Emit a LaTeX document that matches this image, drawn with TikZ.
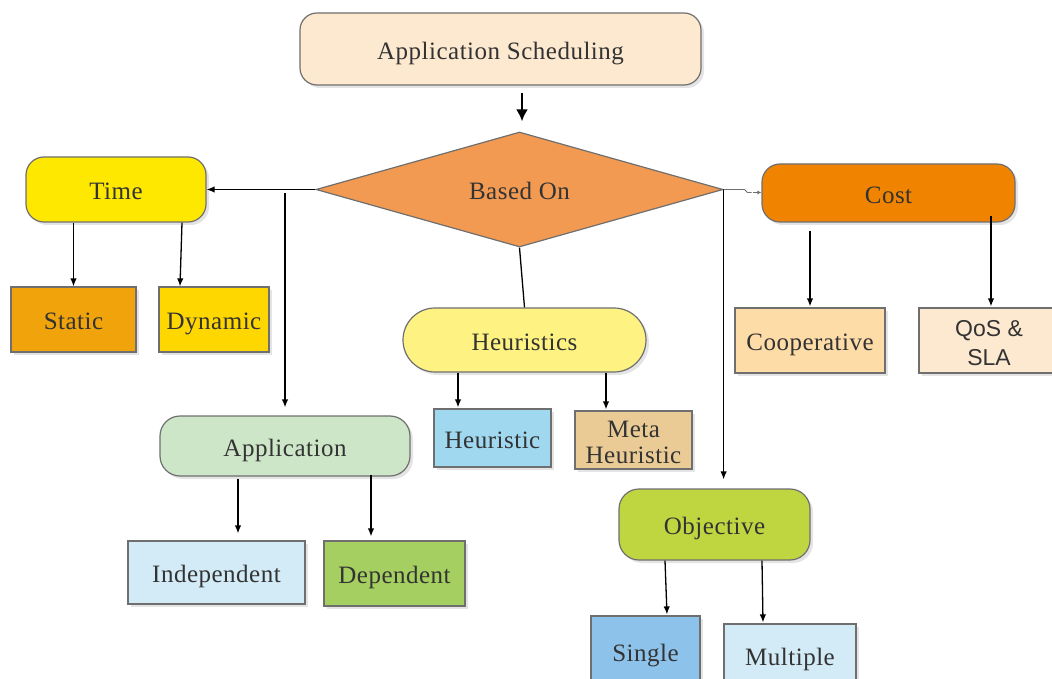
\documentclass[tikz,border=0pt]{standalone}
\usepackage{fontspec}
\setmainfont[LetterSpace=2]{Liberation Serif}
\newfontfamily\sansf{Liberation Sans}
\usetikzlibrary{shapes.geometric,arrows.meta,shadows}
\definecolor{edgegray}{HTML}{6F6F6F}
\definecolor{txt}{HTML}{333333}
\definecolor{shadowgray}{HTML}{E4E4E4}
\definecolor{cApp}{HTML}{FDE9D0}
\definecolor{cBased}{HTML}{F29A52}
\definecolor{cTime}{HTML}{FFE800}
\definecolor{cStatic}{HTML}{F0A30A}
\definecolor{cDynamic}{HTML}{FFD700}
\definecolor{cHeurs}{HTML}{FDF282}
\definecolor{cHeur}{HTML}{A0D8EF}
\definecolor{cMeta}{HTML}{EACB95}
\definecolor{cAppl}{HTML}{CEE6C8}
\definecolor{cIndep}{HTML}{D2EBF6}
\definecolor{cDep}{HTML}{A5CF60}
\definecolor{cObj}{HTML}{C0D641}
\definecolor{cSingle}{HTML}{8DC3EB}
\definecolor{cMult}{HTML}{D2EBF6}
\definecolor{cCost}{HTML}{F08300}
\definecolor{cCoop}{HTML}{FDDCA8}
\definecolor{cQos}{HTML}{FDE9D0}
\begin{document}
\begin{tikzpicture}[x=1pt,y=-1pt,
  base/.style={draw=edgegray, line width=1.2pt, text=txt, inner sep=0pt, align=center,
    font=\fontsize{25}{26}\selectfont, text height=20.5pt, text depth=0pt},
  box/.style={base, drop shadow={shadow xshift=3pt,shadow yshift=-3pt,fill=shadowgray,opacity=1}},
  wh/.style 2 args={minimum width=#1pt, minimum height=#2pt},
  lbl/.style={text=txt, inner sep=0pt, align=center},
  conn/.style={draw=black, line width=1.3pt, -{Latex[length=8pt,width=6.5pt]}},
  plain/.style={draw=black, line width=1.3pt},
]
\useasboundingbox (0,0) rectangle (1052,679);

% nodes
\node[box, rounded corners=17pt, wh={401}{72}, fill=cApp] (sched) at (500.5,49) {Application Scheduling};
\node[base, diamond, aspect=3.5, wh={407}{115}, fill=cBased] (based) at (519.5,189.5) {Based On};
\node[box, rounded corners=18pt, wh={180}{65}, fill=cTime] (time) at (116,189.5) {Time};
\node[box, wh={125}{65}, fill=cStatic] (static) at (73.5,319.5) {Static};
\node[box, wh={110}{65}, fill=cDynamic] (dynamic) at (214,319.5) {Dynamic};
\node[box, rounded corners=32pt, wh={243}{64}, fill=cHeurs] (heurs) at (524.5,340) {Heuristics};
\node[box, wh={117}{58}, fill=cHeur] (heur) at (492.5,438) {Heuristic};
\node[box, wh={117}{58}, fill=cMeta] (meta) at (633.5,440) {};
\node[lbl, font=\fontsize{25}{26}\selectfont] (metatxt) at ([yshift=-2pt]meta.center) {Meta\\Heuristic};
\node[box, rounded corners=20pt, wh={250}{60}, fill=cAppl] (appl) at (285,446) {Application};
\node[box, wh={177}{63}, fill=cIndep] (indep) at (216.5,572.5) {Independent};
\node[box, wh={141}{65}, fill=cDep] (dep) at (394.5,573.5) {Dependent};
\node[box, rounded corners=20pt, wh={191}{71}, fill=cObj] (obj) at (714.5,524.5) {Objective};
\node[box, wh={109}{70}, fill=cSingle] (single) at (645.5,651) {Single};
\node[box, wh={132}{62}, fill=cMult] (mult) at (790,655) {Multiple};
\node[box, rounded corners=18pt, wh={253}{58}, fill=cCost] (cost) at (888.5,193) {Cost};
\node[box, wh={150}{65}, fill=cCoop] (coop) at (810,340.5) {Cooperative};
\node[box, wh={140}{65}, fill=cQos] (qos) at (989,340.5) {};
\node[lbl, font=\sansf\fontsize{23}{29}\selectfont] (qostxt) at ([yshift=-2.5pt]qos.center) {QoS \&\\SLA};

% connectors
\draw[line width=2.6pt, -{Latex[length=12pt,width=12pt]}] ([xshift=21.5pt,yshift=-7pt]sched.south) -- ([xshift=2.5pt,yshift=10pt]based.north);
\draw[conn] (based.west) -- (time.east);
\draw[conn] ([yshift=-4pt]based.west -| appl.north) -- ([yshift=8pt]appl.north);
\draw[plain] (based.south) -- (heurs.north);
\draw[conn] ([xshift=-66.5pt]heurs.south) -- ([xshift=-34.5pt,yshift=1pt]heur.north);
\draw[conn] ([xshift=81.5pt]heurs.south) -- ([xshift=-27.5pt,yshift=1pt]meta.north);
\draw[conn] (static.north |- time.south) -- (static.north);
\draw[conn] ([xshift=66pt]time.south) -- ([xshift=-34pt]dynamic.north);
\draw[conn] ([xshift=-47pt,yshift=-2pt]appl.south) -- ([xshift=21.5pt,yshift=7pt]indep.north);
\draw[conn] ([xshift=86pt,yshift=2pt]appl.south) -- ([xshift=-23.5pt,yshift=4pt]dep.north);
\draw[conn] (based.east) -- ([yshift=9pt]based.east |- obj.north);
\draw[conn] ([xshift=-49.5pt]obj.south) -- ([xshift=21.5pt,yshift=1pt]single.north);
\draw[conn] ([xshift=47.5pt]obj.south) -- ([xshift=-27pt,yshift=1pt]mult.north);
\coordinate (jog) at ([xshift=24pt,yshift=-3pt]based.east);
\draw[edgegray, line width=0.9pt] (based.east) -- ++(21,0) -- (jog) -- ++(4,0);
\draw[edgegray, line width=0.9pt, dash pattern=on 5pt off 3pt, -{Latex[length=4pt,width=4pt]}] ([xshift=5pt]jog) -- (jog -| cost.west);
\draw[conn] ([xshift=-78.5pt,yshift=-8pt]cost.south) -- ([yshift=1pt]coop.north);
\draw[conn] ([xshift=102.5pt,yshift=7pt]cost.south) -- ([xshift=2pt,yshift=1pt]qos.north);
\end{tikzpicture}
\end{document}
